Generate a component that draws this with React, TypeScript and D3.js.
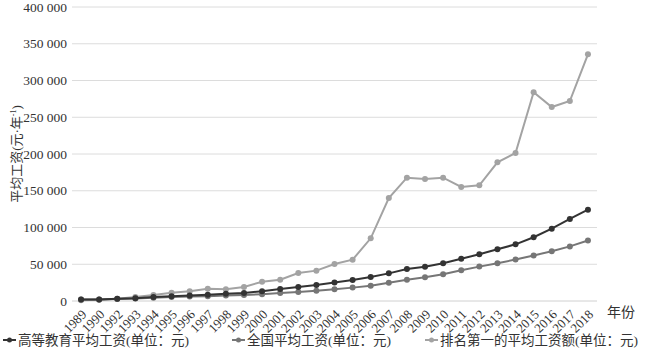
import React from "react";
import * as d3 from "d3";

const years = ["1989","1990","1992","1993","1994","1995","1996","1997","1998","1999","2000","2001","2002","2003","2004","2005","2006","2007","2008","2009","2010","2011","2012","2013","2014","2015","2016","2017","2018"];
const higherEd = [1900,2200,2900,3800,5300,6400,7400,8500,9700,11000,13200,16200,19200,21800,25200,28600,32700,37600,43500,46700,51300,57600,63500,70300,77100,86700,98400,111600,124200];
const national = [1935,2140,2711,3371,4538,5348,5980,6444,7446,8319,9333,10834,12373,13969,15920,18200,20856,24721,28898,32244,36539,41799,46769,51483,56360,62029,67569,74318,82413];
const topRank = [1000,1800,3100,5400,8200,11300,13200,16700,15900,19000,26300,29000,38100,41300,50300,56200,85300,140100,167800,166000,167800,155100,157400,188700,201400,283900,263900,272100,335600];
const yTicks = [0,50000,100000,150000,200000,250000,300000,350000,400000];
const seriesNames = ["高等教育平均工资(单位：元)","全国平均工资(单位：元)","排名第一的平均工资额(单位：元)"];
const seriesColors = ["#333333","#767676","#a3a3a3"];

const W = 649, H = 354;
const left = 72, right = 597, top = 7, bottom = 301;
const latinFont = "'Liberation Serif', 'Times New Roman', 'DejaVu Serif', serif";
const cjkFont = "'Liberation Serif', 'Noto Sans CJK SC', serif";
const legendY = 340;

export default function App() {
  const x = d3.scaleBand<string>().domain(years).range([left, right]);
  const y = d3.scaleLinear().domain([0, 400000]).range([bottom, top]);
  const cx = (d: string) => (x(d) as number) + x.bandwidth() / 2;
  const fmt = (v: number) => d3.format(",")(v).replace(/,/g, " ");
  const data = [higherEd, national, topRank];
  const line = d3.line<number>().x((_, i) => cx(years[i])).y((v) => y(v));
  const legendX = [3, 232, 425];
  const order = [2, 1, 0];
  return (
    <svg width={W} height={H} style={{ position: "absolute", left: 0, top: 0, background: "#fff" }}>
      {yTicks.map((t) => (
        <g key={t}>
          <line x1={left} x2={right} y1={y(t)} y2={y(t)} stroke={t === 0 ? "#d0d0d0" : "#dcdcdc"} strokeWidth={1} />
          <text x={left - 5} y={y(t)} dy="0.35em" textAnchor="end" style={{ fontFamily: latinFont, fontSize: 13.5 }} fill="#333">{fmt(t)}</text>
        </g>
      ))}
      <text transform={`translate(16,${(top + bottom) / 2}) rotate(-90)`} textAnchor="middle" dy="0.35em" style={{ fontFamily: cjkFont, fontSize: 13 }} fill="#333">
        平均工资(元·年<tspan fontSize={8} dy="-5">-1</tspan><tspan dy="5">)</tspan>
      </text>
      {years.map((yr) => (
        <text key={yr} transform={`translate(${cx(yr) + 3},${bottom + 11}) rotate(-45)`} textAnchor="end" dy="0.35em" style={{ fontFamily: latinFont, fontSize: 13 }} fill="#333">{yr}</text>
      ))}
      <text x={607} y={bottom + 11} dy="0.35em" style={{ fontFamily: cjkFont, fontSize: 14 }} fill="#333">年份</text>
      {order.map((s) => (
        <g key={s}>
          <path d={line(data[s]) || ""} fill="none" stroke={seriesColors[s]} strokeWidth={2} />
          {data[s].map((v, i) => (
            <circle key={i} cx={cx(years[i])} cy={y(v)} r={3} fill={seriesColors[s]} />
          ))}
        </g>
      ))}
      {seriesNames.map((n, i) => (
        <g key={n}>
          <line x1={legendX[i]} x2={legendX[i] + 13} y1={legendY} y2={legendY} stroke={seriesColors[i]} strokeWidth={2} />
          <circle cx={legendX[i] + 6.5} cy={legendY} r={2.5} fill={seriesColors[i]} />
          <text x={legendX[i] + 15} y={legendY} dy="0.35em" style={{ fontFamily: cjkFont, fontSize: 13.5 }} fill="#333">{n}</text>
        </g>
      ))}
    </svg>
  );
}
